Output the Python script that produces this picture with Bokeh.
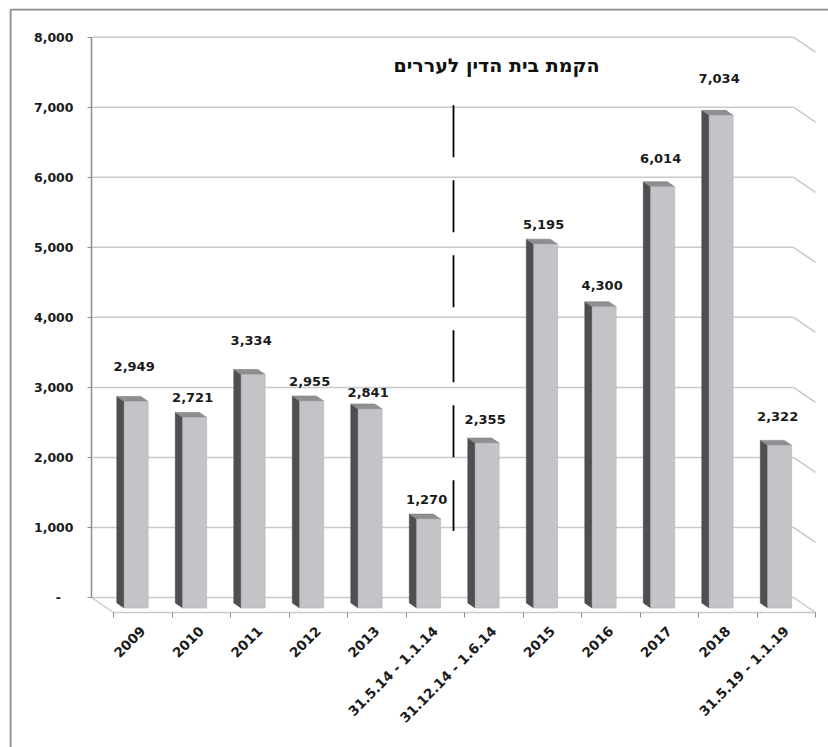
import math

from bokeh.core.properties import value
from bokeh.embed import file_html
from bokeh.models import ColumnDataSource, FixedTicker, LinearAxis, NumeralTickFormatter, Range1d
from bokeh.plotting import figure
from bokeh.resources import INLINE

# ---- data -----------------------------------------------------------------
categories = [
    "2009", "2010", "2011", "2012", "2013",
    "31.5.14 - 1.1.14", "31.12.14 - 1.6.14",
    "2015", "2016", "2017", "2018",
    "31.5.19 - 1.1.19",
]
appeals = [2949, 2721, 3334, 2955, 2841, 1270, 2355, 5195, 4300, 6014, 7034, 2322]
y_ticks = [0, 1000, 2000, 3000, 4000, 5000, 6000, 7000, 8000]
title_text = "הקמת בית הדין לעררים"
divider_after = 5          # the tribunal was set up after this category
divider_span = (950, 7030)  # vertical extent of the divider, in axis units

# ---- layout (pixels) --------------------------------------------------------
W, H = 828, 747
FRAME_L, FRAME_T = 9, 8
SLOT_PX = 58.5            # width of one category slot on the front floor edge
FLOOR_X0 = 113            # front-left corner of the floor
ZERO_PX = 597             # baseline of the back wall
PX_PER_UNIT = (597 - 36.7) / 8000
DEPTH_DX_PX, DEPTH_DY_PX = 22, 15   # floor depth seen in perspective
T_FRONT, T_BACK = 0.30, 0.633       # depth of the bar faces (0 = front, 1 = back)
BAR_W = 0.41
LABEL_GAP_PX = 20
label_lift_px = [15, 0, 14, 0, -3, 0, 4, 0, 1, 8, 17, 9]
BORDER_X_PX, BORDER_Y_PX = 10, 9
TITLE_PX = (496, 64)


def px_to_x(px):
    return -0.5 + (px - FLOOR_X0) / SLOT_PX


def px_to_y(py):
    return (ZERO_PX - py) / PX_PER_UNIT


DX = DEPTH_DX_PX / SLOT_PX
DY = DEPTH_DY_PX / PX_PER_UNIT
n = len(categories)

p = figure(
    width=W, height=H,
    x_range=Range1d(px_to_x(FRAME_L), px_to_x(W)),
    y_range=Range1d(px_to_y(H), px_to_y(FRAME_T)),
    x_axis_type=None, y_axis_type=None,
    output_backend="svg", toolbar_location=None,
    min_border_left=FRAME_L, min_border_right=0,
    min_border_top=FRAME_T, min_border_bottom=0,
)
p.outline_line_color = None
p.background_fill_color = "white"
p.border_fill_color = "white"

GRID = "#c9c9c9"
AXIS = "#8c8c8c"
FONT = "DejaVu Sans"

# ---- outer frame (left and top edges) ---------------------------------------
bx, by = px_to_x(BORDER_X_PX), px_to_y(BORDER_Y_PX)
p.segment(x0=[bx, bx], y0=[by, by], x1=[bx, px_to_x(W + 5)], y1=[px_to_y(H + 5), by],
          line_color="#8c8c8c", line_width=2)

# ---- walls and floor --------------------------------------------------------
m = len(y_ticks)
p.segment(x0=[-0.5 - DX] * m, y0=y_ticks, x1=[n - 0.5 - DX] * m, y1=y_ticks,
          line_color=GRID, line_width=1.5)
p.segment(x0=[n - 0.5 - DX] * m, y0=y_ticks, x1=[n - 0.5] * m,
          y1=[v - DY for v in y_ticks], line_color=GRID, line_width=1.5)
p.segment(x0=[-0.5 - DX], y0=[0], x1=[-0.5], y1=[-DY], line_color=GRID, line_width=1.5)

# ---- 3-D columns -------------------------------------------------------------
xl_f, xr_f, xl_b, xr_b, yb_f, yt_f, yb_b, yt_b = [], [], [], [], [], [], [], []
for i, v in enumerate(appeals):
    cx_f = i - T_FRONT * DX
    cx_b = i - T_BACK * DX
    xl_f.append(cx_f - BAR_W / 2)
    xr_f.append(cx_f + BAR_W / 2)
    xl_b.append(cx_b - BAR_W / 2)
    xr_b.append(cx_b + BAR_W / 2)
    yb_f.append(0 - (1 - T_FRONT) * DY)
    yt_f.append(v - (1 - T_FRONT) * DY)
    yb_b.append(0 - (1 - T_BACK) * DY)
    yt_b.append(v - (1 - T_BACK) * DY)

side = ColumnDataSource(dict(
    xs=[[a, a, b, b] for a, b in zip(xl_f, xl_b)],
    ys=[[yb, yt, ytb, ybb] for yb, yt, ytb, ybb in zip(yb_f, yt_f, yt_b, yb_b)],
))
top = ColumnDataSource(dict(
    xs=[[a, b, c, d] for a, b, c, d in zip(xl_f, xr_f, xr_b, xl_b)],
    ys=[[yt, yt, ytb, ytb] for yt, ytb in zip(yt_f, yt_b)],
))
p.patches("xs", "ys", source=side, fill_color="#4f4f51", line_color="#444446", line_width=0.6)
p.patches("xs", "ys", source=top, fill_color="#8f8f92", line_color="#7d7d80", line_width=0.6)
p.quad(left=xl_f, right=xr_f, bottom=yb_f, top=yt_f,
       fill_color="#c3c4c8", line_color="#b0b1b5", line_width=0.6)

# ---- divider marking the tribunal's establishment ----------------------------
dx_div = divider_after + 0.5 - 0.5 * DX
p.line(x=[dx_div, dx_div], y=[divider_span[1], divider_span[0]],
       line_color="black", line_width=1.8, line_dash="52 23")

# ---- value labels -----------------------------------------------------------
labels = ColumnDataSource(dict(
    x=[i - T_FRONT * DX - 2 / SLOT_PX for i in range(n)],
    y=yt_f,
    text=[f"{v:,}" for v in appeals],
    off=[-(LABEL_GAP_PX + d) for d in label_lift_px],
))
p.text(x="x", y="y", text="text", y_offset="off", source=labels,
       text_align="center", text_baseline="alphabetic",
       text_font=value(FONT), text_font_style="bold", text_font_size="13px",
       text_color="#1a1a1a")

p.text(x=[px_to_x(TITLE_PX[0])], y=[px_to_y(TITLE_PX[1])], text=[title_text],
       text_align="center", text_baseline="middle",
       text_font=value(FONT), text_font_style="bold", text_font_size="19px",
       text_color="#111111")

# ---- axes -------------------------------------------------------------------
ya = LinearAxis(fixed_location=-0.5 - DX)
ya.ticker = FixedTicker(ticks=y_ticks, minor_ticks=[])
ya.formatter = NumeralTickFormatter(format="0,0")
ya.major_label_overrides = {0: "-\u2002\u2002"}
ya.bounds = (0, 8000)
ya.axis_line_color = AXIS
ya.axis_line_width = 1.5
ya.major_tick_line_color = AXIS
ya.major_tick_out = 4
ya.major_tick_in = 0
ya.minor_tick_line_color = None
ya.major_label_standoff = 14
ya.major_label_text_font = FONT
ya.major_label_text_font_style = "bold"
ya.major_label_text_font_size = "12.5px"
ya.major_label_text_color = "#1a1a1a"
p.add_layout(ya, "left")

xa = LinearAxis(fixed_location=-DY)
xa.ticker = FixedTicker(ticks=list(range(n)), minor_ticks=[k - 0.5 for k in range(n + 1)])
xa.major_label_overrides = {i: c for i, c in enumerate(categories)}
xa.bounds = (-0.5, n - 0.5)
xa.axis_line_color = GRID
xa.axis_line_width = 1.5
xa.major_tick_line_color = None
xa.minor_tick_line_color = AXIS
xa.minor_tick_out = 5
xa.minor_tick_in = 0
xa.major_label_orientation = math.pi / 4
xa.major_label_standoff = 10
xa.major_label_text_font = FONT
xa.major_label_text_font_style = "bold"
xa.major_label_text_font_size = "13.5px"
xa.major_label_text_color = "#1a1a1a"
p.add_layout(xa, "below")

open("out.html", "w").write(file_html(p, INLINE))
